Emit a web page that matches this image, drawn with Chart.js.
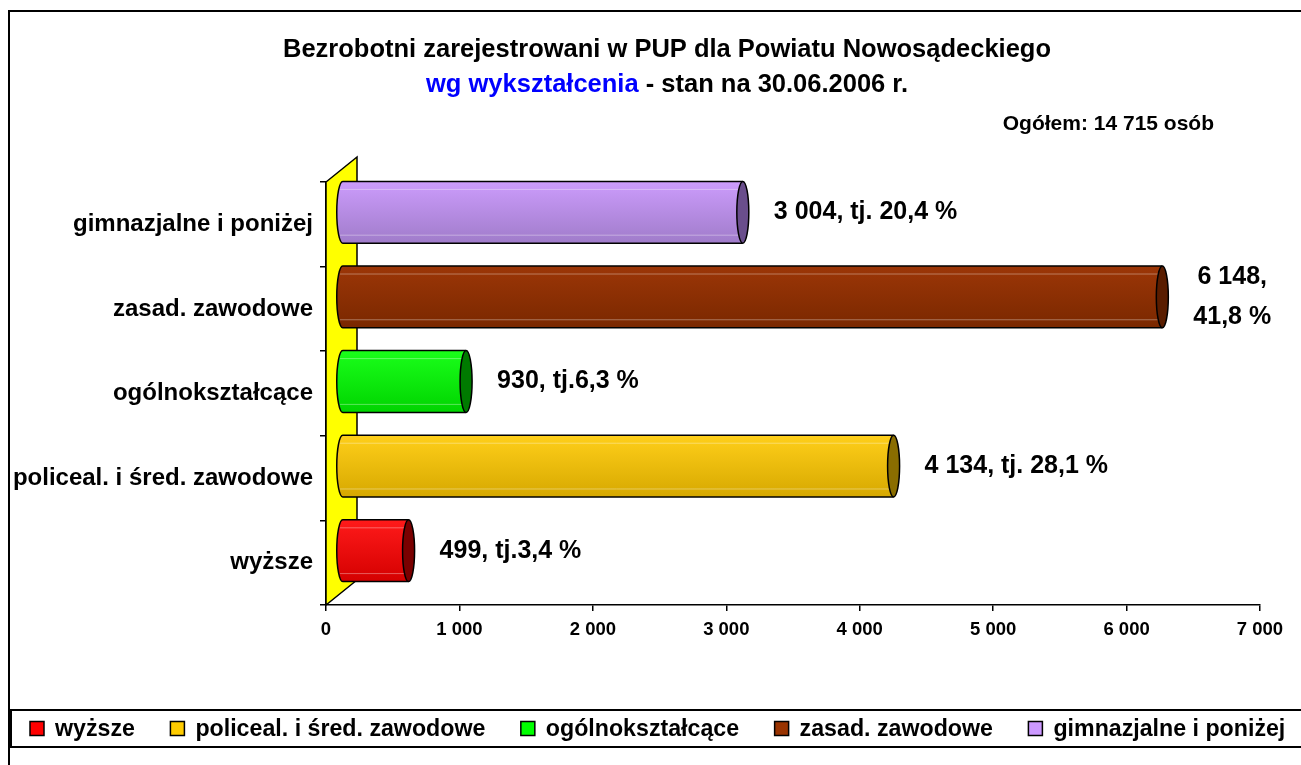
<!DOCTYPE html>
<html lang="pl">
<head>
<meta charset="utf-8">
<title>Bezrobotni wg wykształcenia</title>
<script src="https://cdn.jsdelivr.net/npm/chart.js@4.4.0/dist/chart.umd.min.js"></script>
<style>
  html, body { margin: 0; padding: 0; background: #fff; }
  canvas { display: block; }
</style>
</head>
<body>
<canvas id="wykres" width="1301" height="765"></canvas>
<script>
// dane z wykresu (od dołu do góry)
const kategorie = ["wyższe", "policeal. i śred. zawodowe", "ogólnokształcące", "zasad. zawodowe", "gimnazjalne i poniżej"];
const liczbaBezrobotnych = [499, 4134, 930, 6148, 3004];
const etykietyWartosci = ["499, tj.3,4 %", "4 134, tj. 28,1 %", "930, tj.6,3 %", ["6 148,", "41,8 %"], "3 004, tj. 20,4 %"];

const tytul = "Bezrobotni zarejestrowani w PUP dla Powiatu Nowosądeckiego";
const podtytulNiebieski = "wg wykształcenia";
const podtytulReszta = " - stan na 30.06.2006 r.";
const ogolem = "Ogółem: 14 715 osób";

const osXmin = 0;
const osXmax = 7000;
const osXkrok = 1000;

// kolory walców: [jasny, ciemny, denko]
const kolory = [
    ["#ff1a1a", "#d40000", "#7a0000"],
    ["#ffcf1a", "#d6a800", "#8a6d00"],
    ["#1aff1a", "#00d400", "#007a00"],
    ["#9c3607", "#7a2800", "#5a1d00"],
    ["#cc9cfc", "#a07cca", "#6a4e8c"]
];
const koloryLegendy = ["#ff0000", "#ffcc00", "#00ff00", "#993300", "#cc99ff"];

const FONT = "'Liberation Sans', Arial, sans-serif";
const GLEBOKOSC = {dx: 31, dy: -25};

function formatTys(v) {
    return String(v).replace(/\B(?=(\d{3})+(?!\d))/g, " ");
}

function obrysWalca(ctx, x0, x1, yc, h, rx) {
    const gora = yc - h / 2, dol = yc + h / 2;
    ctx.beginPath();
    ctx.moveTo(x1, gora);
    ctx.lineTo(x0, gora);
    ctx.ellipse(x0, yc, rx, h / 2, 0, -Math.PI / 2, Math.PI / 2, true);
    ctx.lineTo(x1, dol);
}

function walec(ctx, x0, x1, yc, h, kol) {
    const gora = yc - h / 2, dol = yc + h / 2, rx = 6;
    const g = ctx.createLinearGradient(0, gora, 0, dol);
    g.addColorStop(0, kol[0]);
    g.addColorStop(1, kol[1]);
    obrysWalca(ctx, x0, x1, yc, h, rx);
    ctx.closePath();
    ctx.fillStyle = g;
    ctx.fill();

    // delikatne odblaski
    ctx.strokeStyle = "rgba(255,255,255,0.35)";
    ctx.lineWidth = 1;
    [gora + 8, dol - 8].forEach(yy => {
        ctx.beginPath();
        ctx.moveTo(x0 - rx + 3, yy);
        ctx.lineTo(x1, yy);
        ctx.stroke();
    });

    obrysWalca(ctx, x0, x1, yc, h, rx);
    ctx.strokeStyle = "#000";
    ctx.lineWidth = 1.5;
    ctx.stroke();

    ctx.beginPath();
    ctx.ellipse(x1, yc, rx, h / 2, 0, 0, Math.PI * 2);
    ctx.fillStyle = kol[2];
    ctx.fill();
    ctx.stroke();
}

const wykres3d = {
    id: "wykres3d",
    beforeDatasetsDraw(chart) {
        const ctx = chart.ctx;
        const a = chart.chartArea;
        const x0 = chart.scales.x.getPixelForValue(0);
        ctx.save();
        ctx.beginPath();
        ctx.moveTo(x0, a.bottom);
        ctx.lineTo(x0, a.top);
        ctx.lineTo(x0 + GLEBOKOSC.dx, a.top + GLEBOKOSC.dy);
        ctx.lineTo(x0 + GLEBOKOSC.dx, a.bottom + GLEBOKOSC.dy);
        ctx.closePath();
        ctx.fillStyle = "#ffff00";
        ctx.fill();
        ctx.strokeStyle = "#000";
        ctx.lineWidth = 1.5;
        ctx.stroke();
        ctx.restore();
    },
    afterDatasetsDraw(chart) {
        const ctx = chart.ctx;
        const meta = chart.getDatasetMeta(0);
        const px = 16, py = -12;
        ctx.save();
        meta.data.forEach((bar, i) => {
            const p = bar.getProps(["x", "y", "base", "height"], true);
            walec(ctx, p.base + px, p.x + px, p.y + py, p.height, kolory[i]);

            // etykieta wartości
            const et = etykietyWartosci[i];
            const linie = Array.isArray(et) ? et : [et];
            ctx.font = "bold 25px " + FONT;
            ctx.fillStyle = "#000";
            ctx.textBaseline = "middle";
            ctx.textAlign = "center";
            const szer = Math.max(...linie.map(l => ctx.measureText(l).width));
            const xs = p.x + px + 6 + 25;
            const wys = 40;
            linie.forEach((l, k) => {
                ctx.fillText(l, xs + szer / 2, p.y + py + (k - (linie.length - 1) / 2) * wys);
            });
        });
        ctx.restore();
    },
    afterDraw(chart) {
        const ctx = chart.ctx;
        const W = chart.width;
        const H = chart.height;
        const srodek = 667;
        ctx.save();

        // ramka
        ctx.strokeStyle = "#000";
        ctx.lineWidth = 2;
        ctx.beginPath();
        ctx.moveTo(9, H);
        ctx.lineTo(9, 11);
        ctx.lineTo(W, 11);
        ctx.stroke();

        // tytuł
        ctx.fillStyle = "#000";
        ctx.textBaseline = "alphabetic";
        ctx.textAlign = "center";
        ctx.font = "bold 25.5px " + FONT;
        ctx.fillText(tytul, srodek, 57);

        const w1 = ctx.measureText(podtytulNiebieski).width;
        const w2 = ctx.measureText(podtytulReszta).width;
        const xt = srodek - (w1 + w2) / 2;
        ctx.textAlign = "left";
        ctx.fillStyle = "#0000ff";
        ctx.fillText(podtytulNiebieski, xt, 92);
        ctx.fillStyle = "#000";
        ctx.fillText(podtytulReszta, xt + w1, 92);

        ctx.font = "bold 21px " + FONT;
        ctx.textAlign = "right";
        ctx.fillText(ogolem, 1214, 130);

        // legenda
        const lg = {top: 710, bottom: 747};
        ctx.lineWidth = 2;
        ctx.strokeRect(11, lg.top, W, lg.bottom - lg.top);
        ctx.font = "bold 23.2px " + FONT;
        ctx.textAlign = "left";
        ctx.textBaseline = "middle";
        const yc = (lg.top + lg.bottom) / 2;
        let x = 30;
        kategorie.forEach((k, i) => {
            ctx.fillStyle = koloryLegendy[i];
            ctx.fillRect(x, yc - 7, 14, 14);
            ctx.lineWidth = 1.5;
            ctx.strokeStyle = "#000";
            ctx.strokeRect(x, yc - 7, 14, 14);
            ctx.fillStyle = "#000";
            ctx.fillText(k, x + 25, yc + 1);
            x += 25 + ctx.measureText(k).width + 35.5;
        });
        ctx.restore();
    }
};

new Chart(document.getElementById("wykres"), {
    type: "bar",
    data: {
        labels: kategorie,
        datasets: [{
            data: liczbaBezrobotnych,
            backgroundColor: "rgba(0,0,0,0)",
            borderWidth: 0,
            barPercentage: 0.73,
            categoryPercentage: 1
        }]
    },
    options: {
        indexAxis: "y",
        responsive: false,
        animation: false,
        events: [],
        layout: {padding: {top: 182, right: 41, left: 0, bottom: 0}},
        plugins: {
            legend: {display: false},
            title: {display: false},
            tooltip: {enabled: false}
        },
        scales: {
            x: {
                min: osXmin,
                max: osXmax,
                afterFit(s) { s.height = 160; },
                ticks: {
                    stepSize: osXkrok,
                    color: "#000",
                    padding: 8,
                    font: {family: FONT, size: 18.5, weight: "bold"},
                    callback: v => formatTys(v)
                },
                grid: {drawOnChartArea: false, drawTicks: true, tickLength: 6, color: "#000", lineWidth: 1.5},
                border: {color: "#000", width: 1.5}
            },
            y: {
                reverse: true,
                afterFit(s) { s.width = 326; },
                ticks: {
                    color: "#000",
                    padding: 7,
                    font: {family: FONT, size: 24, weight: "bold"}
                },
                grid: {drawOnChartArea: false, drawTicks: true, tickLength: 6, color: "#000", lineWidth: 1.5},
                border: {color: "#000", width: 1.5}
            }
        }
    },
    plugins: [wykres3d]
});
</script>
</body>
</html>
